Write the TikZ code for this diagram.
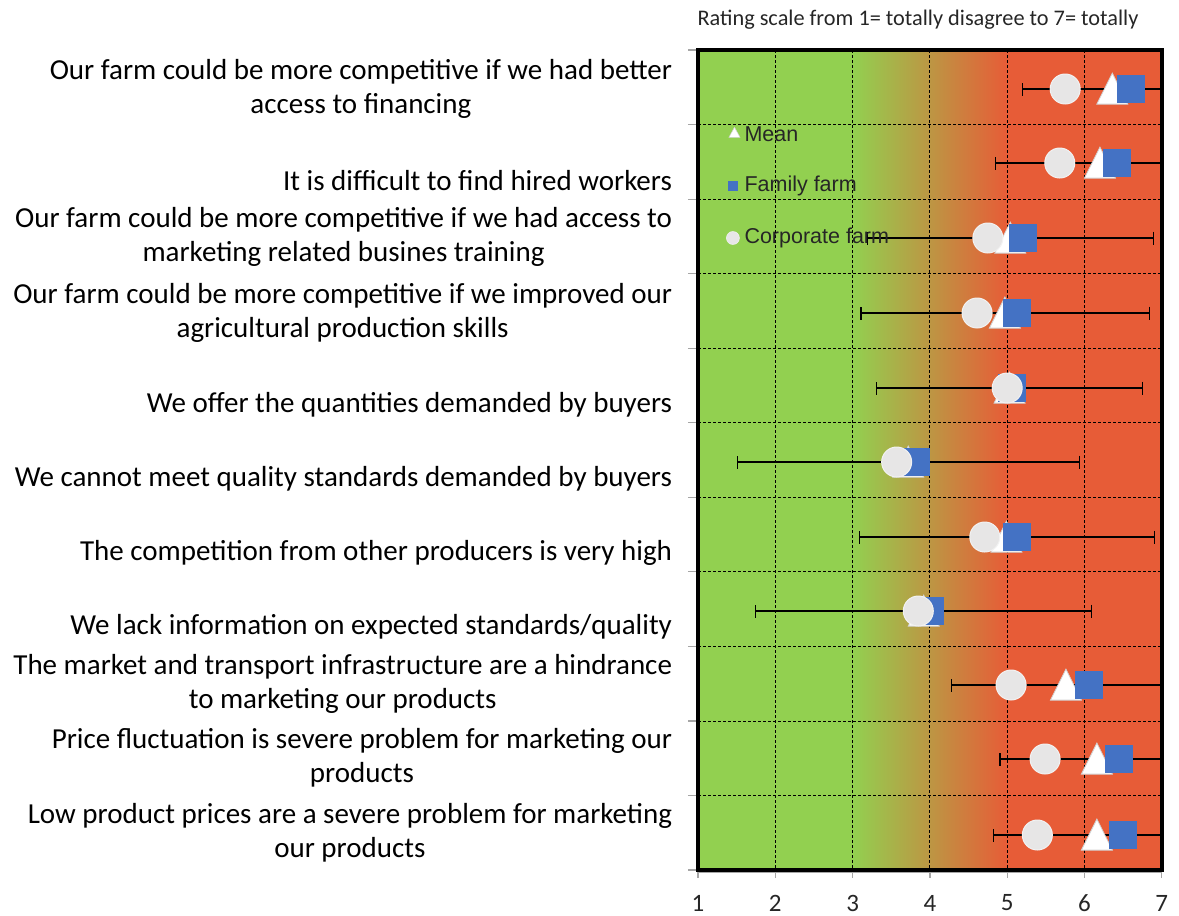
\documentclass[tikz,border=0pt]{standalone}
\usepackage{fontspec}
\setmainfont{Carlito}
\newfontfamily\legfont{Liberation Sans}
\usetikzlibrary{arrows.meta, shapes.geometric}

\definecolor{agreeGreen}{HTML}{92D050}
\definecolor{agreeRed}{HTML}{E75C37}
\definecolor{familyBlue}{HTML}{4472C4}
\definecolor{corpGray}{HTML}{E7E6E6}
\definecolor{axisGray}{HTML}{A6A6A6}

\begin{document}
\begin{tikzpicture}[
    x=1pt, y=-1pt,
    statement/.style={anchor=east, align=center, font=\fontsize{29}{34}\selectfont},
    ticklabel/.style={font=\fontsize{25}{27}\selectfont, text=black!85},
    gridline/.style={black, line width=0.9pt, dash pattern=on 3pt off 2pt},
    errbar/.style={black, line width=1.2pt, {Bar[width=13pt]}-{Bar[width=13pt]}},
    meanmark/.style={isosceles triangle, shape border rotate=90, isosceles triangle stretches,
        minimum width=31pt, minimum height=31pt, inner sep=0pt, fill=white, draw=gray!35, line width=0.8pt, anchor=lower side},
    familymark/.style={rectangle, minimum size=28pt, inner sep=0pt, fill=familyBlue},
    corpmark/.style={circle, minimum size=30pt, inner sep=0pt, fill=corpGray, draw=white!90!gray, line width=1pt},
    legtext/.style={anchor=west, font=\legfont\fontsize{21.5}{24}\selectfont, text=black!85}
]
\useasboundingbox (0,0) rectangle (1179,916);

% axis title
\node[anchor=west, font=\fontsize{22.3}{24}\selectfont, text=black!85] (title) at (694,20) {Rating scale from 1= totally disagree to 7= totally};

% statements
\node[statement] (s1) at (675.5,89) {Our farm could be more competitive if we had better\\access to financing};
\node[statement] (s2) at (675.5,181) {It is difficult to find hired workers};
\node[statement] (s3) at (675.5,237) {Our farm could be more competitive if we had access to\\marketing related busines training};
\node[statement] (s4) at (675.5,313) {Our farm could be more competitive if we improved our\\agricultural production skills};
\node[statement] (s5) at (675.5,405) {We offer the quantities demanded by buyers};
\node[statement] (s6) at (675.5,479) {We cannot meet quality standards demanded by buyers};
\node[statement] (s7) at (675.5,553) {The competition from other producers is very high};
\node[statement] (s8) at (675.5,627) {We lack information on expected standards/quality};
\node[statement] (s9) at (675.5,684) {The market and transport infrastructure are a hindrance\\to marketing our products};
\node[statement] (s10) at (675.5,758) {Price fluctuation is severe problem for marketing our\\products};
\node[statement] (s11) at (675.5,833) {Low product prices are a severe problem for marketing\\our products};

\begin{scope}[shift={(620.7,0)}, x=77.3pt]
% background
\fill[agreeGreen] (1,50) rectangle (3,870);
\shade[left color=agreeGreen, right color=agreeRed] (3,50) rectangle (5,870);
\fill[agreeRed] (5,50) rectangle (7,870);

% grid
\foreach \v in {2,...,6}
  \draw[gridline] (\v,50) -- (\v,870);
\foreach \k in {1,...,10}
  \draw[gridline] (1,50+74.55*\k) -- (7,50+74.55*\k);

% axes
\foreach \k in {0,...,11}
  \draw[axisGray, line width=1.2pt] (0.87,50+74.55*\k) -- (1,50+74.55*\k);
\draw[axisGray, line width=1.2pt] (1,872) -- (7,872);
\foreach \v in {1,...,7} {
  \draw[axisGray, line width=1.2pt] (\v,872) -- (\v,878);
  \node[ticklabel] (t\v) at (\v,903) {\v};
}

% data: row/y/low/high/corporate/mean/family
\begin{scope}
\clip (1,50) rectangle (7,870);
\foreach \r/\y/\lo/\hi/\c/\m/\f in {
    1/89/5.19/7.53/5.75/6.36/6.60,
    2/163/4.84/7.56/5.68/6.20/6.42,
    3/238/3.18/6.90/4.75/5.04/5.20,
    4/313/3.10/6.85/4.61/4.97/5.13,
    5/388/3.30/6.76/5.00/5.03/5.06,
    6/462/1.50/5.94/3.57/3.72/3.82,
    7/537/3.08/6.91/4.71/4.99/5.13,
    8/611/1.74/6.10/3.85/3.92/4.00,
    9/685/4.27/7.25/5.05/5.76/6.06,
    10/759/4.90/7.42/5.49/6.16/6.45,
    11/835/4.82/7.50/5.39/6.16/6.50} {
  \coordinate (lo\r) at (\lo,\y);
  \coordinate (hi\r) at (\hi,\y);
  \draw[errbar] (lo\r) -- (hi\r);
  \node[meanmark] (mean\r) at (\m,\y+15.5) {};
  \node[familymark] (fam\r) at (\f,\y) {};
  \node[corpmark] (corp\r) at (\c,\y) {};
}
\end{scope}

% legend
\node[isosceles triangle, shape border rotate=90, isosceles triangle stretches, minimum width=11pt, minimum height=10pt,
      inner sep=0pt, fill=white, draw=gray!35, line width=0.5pt] (legmean) at (1.472,134) {};
\node[familymark, minimum size=10pt] (legfam) at (1.452,186) {};
\node[corpmark, minimum size=13pt, line width=0.5pt] (legcorp) at (1.452,238) {};
\node[legtext] (legmeantext) at (1.556,134) {Mean};
\node[legtext] (legfamtext) at (1.556,186) {Family farm};
\node[legtext] (legcorptext) at (1.556,238) {Corporate farm};

% frame
\draw[black, line width=3.5pt] (1,50) rectangle (7,870);
\end{scope}
\end{tikzpicture}
\end{document}
